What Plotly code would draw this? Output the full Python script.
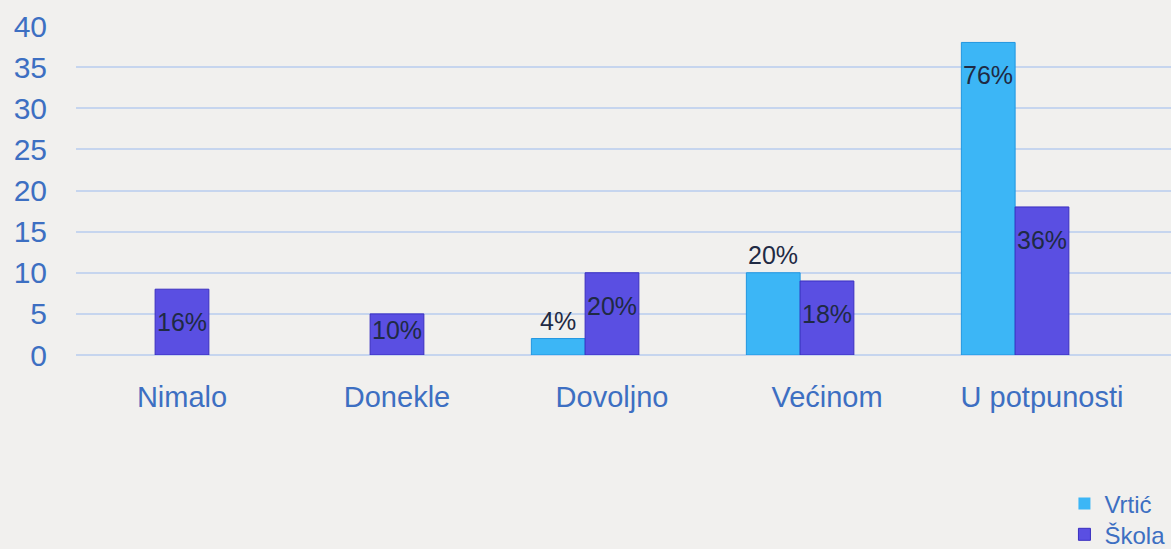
import plotly.graph_objects as go

categories = ["Nimalo", "Donekle", "Dovoljno", "Većinom", "U potpunosti"]
vrtic = [0, 0, 2, 10, 38]
skola = [8, 5, 10, 9, 18]
vrtic_pct = ["", "", "4%", "20%", "76%"]
skola_pct = ["16%", "10%", "20%", "18%", "36%"]
y_ticks = [0, 5, 10, 15, 20, 25, 30, 35, 40]

BLUE_TXT = "#3d6fc2"
LABEL_TXT = "#1f2a44"
FONT = "Liberation Sans"
BG = "#f1f0ee"

x_idx = list(range(len(categories)))
fig = go.Figure()
fig.add_trace(go.Bar(
    name="Vrtić", x=x_idx, y=vrtic, width=0.25, offset=-0.375, legend="legend",
    marker=dict(color="#3cb6f6", line=dict(color="#2196e0", width=[0 if v == 0 else 1 for v in vrtic])),
))
fig.add_trace(go.Bar(
    name="Škola", x=x_idx, y=skola, width=0.25, offset=-0.125, legend="legend2",
    marker=dict(color="#5a4fe2", line=dict(color="#3a2fc0", width=1)),
))

annotations = []
for i, (v, t) in enumerate(zip(vrtic, vrtic_pct)):
    if not t:
        continue
    if v < 15:
        annotations.append(dict(x=i - 0.25, y=v, text=t, showarrow=False,
                                yanchor="bottom", yshift=2,
                                font=dict(size=25, color=LABEL_TXT, family=FONT)))
    else:
        annotations.append(dict(x=i - 0.25, y=v - 4, text=t, showarrow=False,
                                yanchor="middle",
                                font=dict(size=25, color=LABEL_TXT, family=FONT)))
for i, (v, t) in enumerate(zip(skola, skola_pct)):
    annotations.append(dict(x=i, y=max(v - 4, 3), text=t, showarrow=False,
                            yanchor="middle",
                            font=dict(size=25, color=LABEL_TXT, family=FONT)))

leg_common = dict(xref="container", yref="container", x=0.909, xanchor="left",
                  yanchor="middle", font=dict(size=24, color=BLUE_TXT, family=FONT),
                  bgcolor="rgba(0,0,0,0)", itemwidth=30)

fig.update_layout(
    width=1171, height=549,
    margin=dict(l=76, r=0, t=26, b=194, autoexpand=False),
    paper_bgcolor=BG, plot_bgcolor="rgba(0,0,0,0)",
    barmode="overlay",
    font=dict(family=FONT, color=BLUE_TXT),
    annotations=annotations,
    showlegend=True,
    legend=dict(y=0.082, **leg_common),
    legend2=dict(y=0.026, **leg_common),
    xaxis=dict(range=[-0.493, 4.6], tickmode="array", tickvals=x_idx,
               ticktext=categories, showgrid=False, zeroline=False,
               showline=False, ticks="", ticklabelstandoff=22, automargin=False,
               tickfont=dict(size=29, color=BLUE_TXT, family=FONT)),
    yaxis=dict(range=[0, 40], tickmode="array", tickvals=y_ticks,
               showgrid=True, gridcolor="#c6d5ee", gridwidth=1.5,
               zeroline=True, zerolinecolor="#c6d5ee", zerolinewidth=1.5,
               showline=False, ticks="", ticklabelstandoff=28, automargin=False,
               tickfont=dict(size=30, color=BLUE_TXT, family=FONT)),
)

fig.write_html("out.html", config={"displayModeBar": False},
               post_script="document.body.style.margin='0';document.body.style.background='%s';" % BG)
